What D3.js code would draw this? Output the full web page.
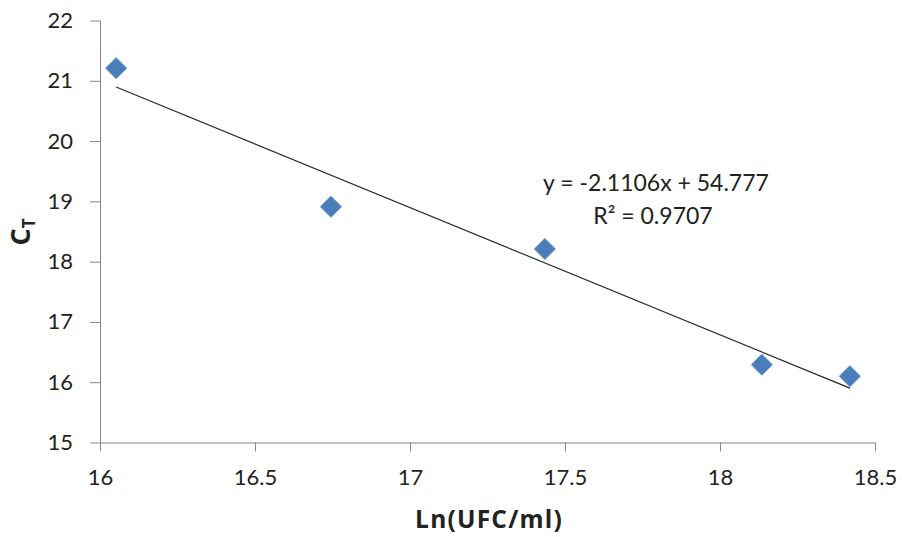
<!DOCTYPE html>
<html lang="en">
<head>
<meta charset="UTF-8">
<title>Ct vs Ln(UFC/ml)</title>
<script src="https://d3js.org/d3.v7.min.js"></script>
<style>
    body { margin: 0; background: #fff; }
    text { font-family: Lato, "Open Sans", sans-serif; fill: #222; }
    .tick text { font-size: 22px; }
    .axis-label { font-family: "Open Sans", sans-serif; font-size: 24.5px; font-weight: bold; }
    .eq { font-size: 23px; }
</style>
</head>
<body>
<div id="chart"></div>
<script>
    // data
    const lnUfc = [16.052, 16.745, 17.435, 18.135, 18.419];
    const ct = [21.21, 18.91, 18.21, 16.29, 16.1];
    const xTicks = [16, 16.5, 17, 17.5, 18, 18.5];
    const yTicks = [15, 16, 17, 18, 19, 20, 21, 22];
    const trendSlope = -2.1106;
    const trendIntercept = 54.777;
    const eqLines = ["y = -2.1106x + 54.777", "R² = 0.9707"];

    const W = 902, H = 537;
    const svg = d3.select("#chart").append("svg").attr("width", W).attr("height", H);

    const x = d3.scaleLinear().domain([16, 18.5]).range([100, 875]);
    const y = d3.scaleLinear().domain([15, 22]).range([442.5, 20.5]);

    const axisColor = "#868686";

    // y axis
    const gy = svg.append("g").attr("transform", "translate(100,0)")
        .call(d3.axisLeft(y).tickValues(yTicks).tickFormat(d3.format("d")).tickSize(10).tickSizeOuter(0).tickPadding(17));
    gy.select(".domain").attr("stroke", axisColor);
    gy.selectAll(".tick line").attr("stroke", axisColor);

    // x axis
    const gx = svg.append("g").attr("transform", "translate(0,442.5)")
        .call(d3.axisBottom(x).tickValues(xTicks).tickFormat(d => d).tickSize(9).tickSizeOuter(0).tickPadding(18));
    gx.select(".domain").attr("stroke", axisColor);
    gx.selectAll(".tick line").attr("stroke", axisColor);
    svg.selectAll(".tick text").attr("fill", "#222");

    // trendline
    const x0 = d3.min(lnUfc), x1 = d3.max(lnUfc);
    svg.append("line")
        .attr("x1", x(x0)).attr("y1", y(trendSlope * x0 + trendIntercept))
        .attr("x2", x(x1)).attr("y2", y(trendSlope * x1 + trendIntercept))
        .attr("stroke", "#222").attr("stroke-width", 1.1);

    // diamond markers
    const pts = lnUfc.map((v, i) => [v, ct[i]]);
    svg.selectAll("path.pt")
        .data(pts)
        .enter().append("path")
        .attr("class", "pt")
        .attr("transform", d => `translate(${x(d[0])},${y(d[1])})`)
        .attr("d", "M0,-10.5L10.5,0L0,10.5L-10.5,0Z")
        .attr("fill", "#4a7ebb")
        .attr("stroke", "#5b8dc9")
        .attr("stroke-width", 1);

    // equation
    svg.append("text").attr("class", "eq").attr("x", 656).attr("y", 191)
        .attr("text-anchor", "middle").text(eqLines[0]);
    svg.append("text").attr("class", "eq").attr("x", 653).attr("y", 224)
        .attr("text-anchor", "middle").text(eqLines[1]);

    // axis titles
    svg.append("text").attr("class", "axis-label").attr("letter-spacing", "1.2px")
        .attr("x", 489).attr("y", 528).attr("text-anchor", "middle").text("Ln(UFC/ml)");
    const yl = svg.append("text").attr("class", "axis-label")
        .attr("transform", "translate(30,232) rotate(-90)").attr("text-anchor", "middle");
    yl.append("tspan").attr("font-size", "27px").text("C");
    yl.append("tspan").attr("font-size", "17px").attr("dy", 5).text("T");
</script>
</body>
</html>
